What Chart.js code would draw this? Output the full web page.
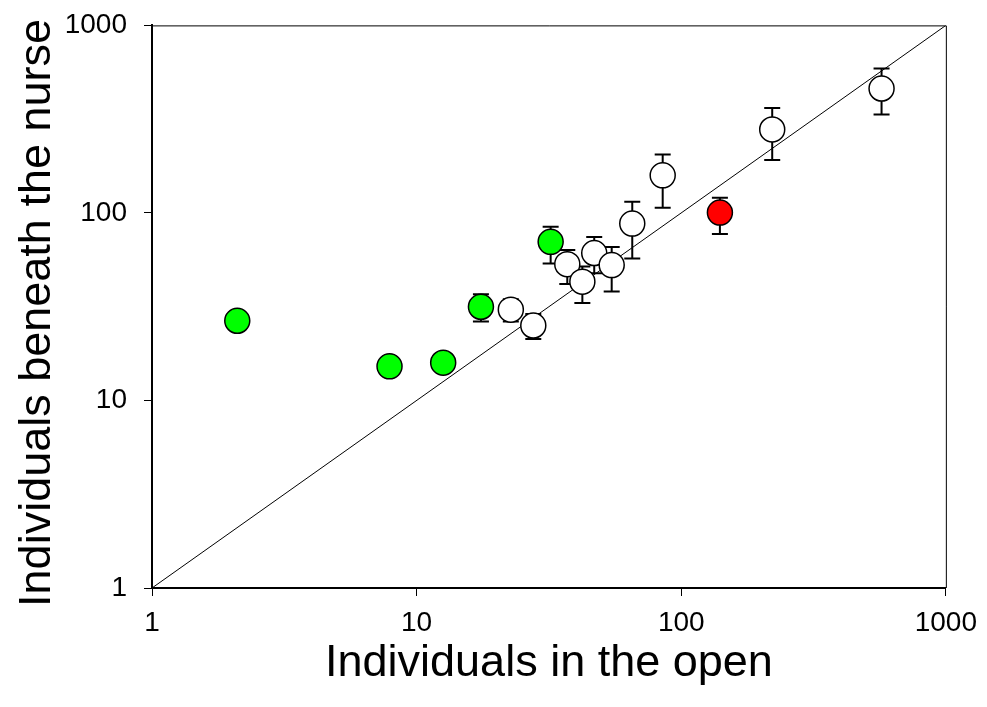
<!DOCTYPE html>
<html>
<head>
<meta charset="utf-8">
<script src="https://cdn.jsdelivr.net/npm/chart.js@4"></script>
<style>
  html, body { margin: 0; padding: 0; background: #fff; }
  canvas { display: block; }
</style>
</head>
<body>
<canvas id="chartScatter" width="987" height="707"></canvas>
<script>
// tick labels, both axes are log 1..1000
const tickValues = [1, 10, 100, 1000];

// open circles
const whiteX = [22.7, 27.6, 37.1, 42.3, 46.9, 54.6, 65.3, 85.1, 220.7, 571.5];
const whiteY = [30.5, 25.1, 53.3, 43.0, 61.1, 52.7, 87.7, 158.6, 278.7, 460.5];
const whiteHi = [34.6, 28.9, 63.4, 51.8, 74.5, 65.9, 114.8, 205.2, 363, 588.5];
const whiteLo = [26.4, 21.3, 41.8, 33.1, 47.7, 38.1, 57.1, 106.7, 191.4, 335];

// green circles
const greenX = [2.1, 7.9, 12.6, 17.5, 32.1];
const greenY = [26.6, 15.2, 15.9, 31.6, 70.1];
const greenHi = [null, null, null, 36.8, 84.3];
const greenLo = [null, null, null, 26.4, 53.8];

// red circle
const redX = [140];
const redY = [100.4];
const redHi = [120.6];
const redLo = [77.1];

// 1:1 line
const lineX = [1, 1000];
const lineY = [1, 1000];

const toPoints = (xs, ys) => xs.map((x, i) => ({ x: x, y: ys[i] }));

const font = "Arial, 'Liberation Sans', sans-serif";

// vertical error bars, drawn under the circles
const errorBars = {
  id: 'errorBars',
  beforeDatasetsDraw(chart) {
    const ctx = chart.ctx;
    const xs = chart.scales.x, ys = chart.scales.y;
    ctx.save();
    ctx.strokeStyle = '#000';
    ctx.lineWidth = 2;
    chart.data.datasets.forEach((ds) => {
      if (!ds.errHi) return;
      ds.data.forEach((p, i) => {
        const hi = ds.errHi[i], lo = ds.errLo[i];
        if (hi == null) return;
        const px = xs.getPixelForValue(p.x);
        const pHi = ys.getPixelForValue(hi);
        const pLo = ys.getPixelForValue(lo);
        ctx.beginPath();
        ctx.moveTo(px, pHi); ctx.lineTo(px, pLo);
        ctx.moveTo(px - 8, pHi); ctx.lineTo(px + 8, pHi);
        ctx.moveTo(px - 8, pLo); ctx.lineTo(px + 8, pLo);
        ctx.stroke();
      });
    });
    ctx.restore();
  }
};

// thin frame on top and right
const frame = {
  id: 'frame',
  afterDraw(chart) {
    const { ctx, chartArea: a } = chart;
    ctx.save();
    ctx.strokeStyle = '#000';
    ctx.lineWidth = 1;
    ctx.beginPath();
    ctx.moveTo(a.left, a.top + 0.5);
    ctx.lineTo(a.right + 0.5, a.top + 0.5);
    ctx.lineTo(a.right + 0.5, a.bottom);
    ctx.stroke();
    ctx.restore();
  }
};

const pointStyle = (fill) => ({
  backgroundColor: fill,
  borderColor: '#000',
  borderWidth: 1.5,
  pointRadius: 12.5,
  pointHoverRadius: 12.5
});

const axisCommon = {
  type: 'logarithmic',
  min: 1,
  max: 1000,
  afterBuildTicks: (scale) => { scale.ticks = tickValues.map((v) => ({ value: v })); },
  grid: { drawOnChartArea: false, drawTicks: true, tickLength: 8, color: '#000', lineWidth: 1 },
  border: { color: '#000', width: 2 },
  ticks: {
    color: '#000',
    font: { family: font, size: 28 },
    callback: (v) => String(v),
    autoSkip: false,
    maxRotation: 0
  }
};

new Chart(document.getElementById('chartScatter'), {
  type: 'scatter',
  data: {
    datasets: [
      {
        type: 'line',
        data: toPoints(lineX, lineY),
        borderColor: '#000',
        borderWidth: 1,
        pointRadius: 0,
        fill: false,
        order: 5
      },
      Object.assign({ data: toPoints(whiteX, whiteY), errHi: whiteHi, errLo: whiteLo, order: 3 }, pointStyle('#ffffff')),
      Object.assign({ data: toPoints(greenX, greenY), errHi: greenHi, errLo: greenLo, order: 2 }, pointStyle('#00ff00')),
      Object.assign({ data: toPoints(redX, redY), errHi: redHi, errLo: redLo, order: 1 }, pointStyle('#ff0000'))
    ]
  },
  options: {
    responsive: false,
    animation: false,
    layout: { padding: { top: 24, right: 41, left: 0, bottom: 0 } },
    plugins: { legend: { display: false }, tooltip: { enabled: false } },
    scales: {
      x: Object.assign({}, axisCommon, {
        position: 'bottom',
        ticks: Object.assign({}, axisCommon.ticks, { padding: 10 }),
        title: { display: true, text: 'Individuals in the open', color: '#000',
                 font: { family: font, size: 45 }, padding: { top: 0, bottom: 16 } },
        afterFit: (scale) => { scale.height = 119; }
      }),
      y: Object.assign({}, axisCommon, {
        position: 'left',
        ticks: Object.assign({}, axisCommon.ticks, {
          padding: 17,
          font: { family: font, size: 28, lineHeight: 0.6 }
        }),
        // trailing space nudges the rotated title a little lower
        title: { display: true, text: 'Individuals beneath the nurse ', color: '#000',
                 font: { family: font, size: 45 }, padding: { top: 11, bottom: 0 } },
        afterFit: (scale) => { scale.width = 152; }
      })
    }
  },
  plugins: [errorBars, frame]
});
</script>
</body>
</html>
